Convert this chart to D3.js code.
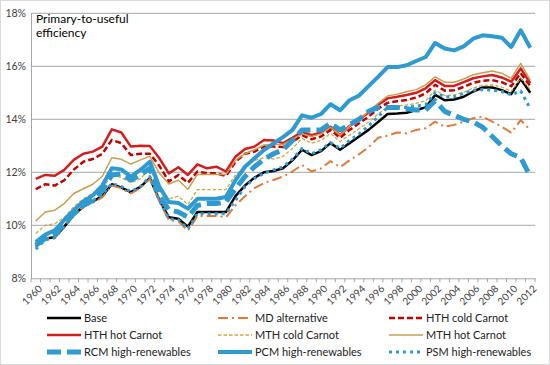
<!DOCTYPE html>
<html><head><meta charset="utf-8">
<script src="https://cdn.jsdelivr.net/npm/d3@7"></script>
<style>
html,body{margin:0;padding:0;background:#fff;}
svg{display:block;font-family:Lato,"Open Sans",sans-serif;}
</style></head>
<body><svg id="c" width="550" height="365"></svg>
<script>
const years = d3.range(1960, 2013);
const yTicks = [8, 10, 12, 14, 16, 18];

const base = [9.2,9.5,9.55,9.95,10.4,10.7,10.9,11.1,11.55,11.42, 11.25,11.45,11.78,10.95,10.3,10.25,9.95,10.5,10.5,10.5, 10.5,11.1,11.5,11.8,12.0,12.05,12.15,12.45,12.85,12.65, 12.8,13.1,12.85,13.1,13.35,13.6,13.9,14.2,14.22,14.25, 14.35,14.45,14.92,14.72,14.75,14.85,15.05,15.2,15.2,15.1, 14.95,15.52,15.0];
const mdAlt = [9.2,9.5,9.55,9.95,10.4,10.7,10.85,11.05,11.5,11.4, 11.2,11.4,11.75,10.9,10.2,10.15,9.8,10.35,10.35,10.35, 10.3,10.75,11.1,11.4,11.6,11.71,11.84,12.03,12.28,12.03, 12.15,12.42,12.2,12.45,12.68,12.95,13.3,13.38,13.5,13.47, 13.6,13.66,13.91,13.72,13.79,13.91,14.04,14.1,13.91,13.72, 13.5,13.97,13.6];
const hthCold = [11.36,11.55,11.5,11.7,12.1,12.4,12.5,12.7,13.22,13.1, 12.65,12.7,12.7,12.24,11.65,11.9,11.6,12.03,11.96,11.96, 11.86,12.4,12.7,12.78,12.97,12.97,12.95,13.15,13.4,13.25, 13.35,13.6,13.3,13.6,13.85,14.1,14.4,14.62,14.68,14.73, 14.82,14.98,15.3,15.08,15.1,15.22,15.38,15.45,15.48,15.4, 15.25,15.74,15.26];
const hthHot = [11.75,11.9,11.87,12.09,12.47,12.7,12.78,12.97,13.62,13.5, 12.97,13.0,12.99,12.53,11.96,12.19,11.9,12.3,12.15,12.21, 12.03,12.59,12.88,12.97,13.22,13.2,13.1,13.3,13.53,13.4, 13.5,13.72,13.4,13.75,14.0,14.25,14.55,14.79,14.85,14.92, 15.0,15.17,15.48,15.26,15.26,15.4,15.55,15.62,15.67,15.58, 15.42,15.92,15.36];
const mthCold = [9.69,10.0,10.06,10.3,10.7,11.0,11.2,11.38,11.9,11.8, 11.6,11.75,12.15,11.3,11.0,11.1,10.78,11.35,11.35,11.35, 11.35,11.9,12.2,12.45,12.55,12.5,12.6,12.9,13.28,13.1, 13.2,13.47,13.16,13.4,13.65,13.9,14.2,14.45,14.5,14.54, 14.6,14.7,15.1,14.9,14.92,15.02,15.18,15.28,15.3,15.22, 15.05,15.55,15.13];
const mthHot = [10.16,10.5,10.57,10.82,11.2,11.38,11.55,11.85,12.55,12.49, 12.31,12.47,12.6,11.96,11.56,11.7,11.36,11.92,11.92,11.92, 11.92,12.45,12.7,12.85,13.03,13.05,13.05,13.25,13.45,13.35, 13.45,13.7,13.4,13.75,14.0,14.3,14.6,14.88,14.95,15.04, 15.12,15.3,15.6,15.4,15.4,15.52,15.68,15.76,15.82,15.74, 15.55,16.11,15.48];
const rcm = [9.25,9.5,9.66,10.05,10.44,10.75,10.94,11.3,11.9,11.94, 11.71,11.9,12.15,11.13,10.57,10.5,10.31,10.75,10.82,10.82, 10.88,11.38,11.84,12.21,12.49,12.7,12.85,13.2,13.6,13.6, 13.6,13.85,13.6,13.8,14.0,14.3,14.45,14.45,14.45,14.4, 14.35,14.35,14.7,14.3,14.15,14.0,13.9,13.7,13.35,13.0, 12.7,12.55,11.85];
const pcm = [9.37,9.65,9.81,10.2,10.57,10.9,11.13,11.5,12.15,12.11, 11.84,12.09,12.4,11.45,10.88,10.84,10.63,11.0,11.0,11.0, 11.07,11.7,12.21,12.53,12.84,13.09,13.33,13.6,14.15,14.06, 14.2,14.57,14.34,14.72,14.9,15.25,15.6,15.97,15.97,16.04, 16.2,16.35,16.88,16.67,16.6,16.75,17.04,17.17,17.13,17.08, 16.73,17.36,16.7];
const psm = [9.1,9.45,9.53,9.95,10.38,10.7,10.94,11.15,11.58,11.46, 11.27,11.46,11.84,10.94,10.25,10.21,9.87,10.44,10.44,10.44, 10.44,10.94,11.46,11.77,11.96,12.09,12.2,12.5,12.9,12.7, 12.85,13.12,12.9,13.2,13.45,13.75,14.1,14.45,14.45,14.45, 14.5,14.55,15.0,14.85,14.85,14.98,15.1,15.12,15.1,15.05, 14.92,15.07,14.4];

const seriesNames = ["Base","MD alternative","HTH cold Carnot","HTH hot Carnot","MTH cold Carnot","MTH hot Carnot","RCM high-renewables","PCM high-renewables","PSM high-renewables"];
const seriesValues = [base, mdAlt, hthCold, hthHot, mthCold, mthHot, rcm, pcm, psm];

const styles = [
  {color:"#000000", width:2.5, dash:null},
  {color:"#e2793a", width:2, dash:"10,4,2,4"},
  {color:"#c00000", width:2.5, dash:"6,3"},
  {color:"#d21e1e", width:2.5, dash:null},
  {color:"#d4a640", width:1.3, dash:"3.5,2"},
  {color:"#c9a050", width:1.5, dash:null},
  {color:"#2f9ad0", width:5, dash:"14,6"},
  {color:"#2f9ad0", width:4, dash:null},
  {color:"#2f9ad0", width:3, dash:"3,4"}
];

const svg = d3.select("#c");
svg.append("rect").attr("x",0.5).attr("y",0.5).attr("width",549).attr("height",364)
  .attr("fill","#fff").attr("stroke","#d9d9d9");

const L = 31, R = 535, T = 13.3, B = 278.3;
const x = d3.scaleBand().domain(years).range([L, R]);
const y = d3.scaleLinear().domain([8, 18]).range([B, T]);
const cx = d => x(d) + x.bandwidth()/2;

// gridlines
svg.append("g").selectAll("line").data(yTicks.slice(1)).join("line")
  .attr("x1", L).attr("x2", R).attr("y1", d=>y(d)).attr("y2", d=>y(d))
  .attr("stroke", "#a6a6a6").attr("stroke-width", 1);

// y axis labels
const ya = svg.append("g").attr("transform", `translate(${L},0)`)
  .call(d3.axisLeft(y).tickValues(yTicks).tickFormat(d=>d+"%").tickSize(0).tickPadding(5));
ya.select(".domain").attr("stroke","#a6a6a6");
ya.selectAll("text").attr("font-size", 10.5).attr("fill","#404040").attr("font-family","Lato");

// x axis
const xa = svg.append("g").attr("transform", `translate(0,${B})`)
  .call(d3.axisBottom(x).tickSize(0).tickFormat(d => d % 2 === 0 ? d : ""));
xa.select(".domain").attr("stroke","#a6a6a6");
xa.selectAll("text").attr("font-size", 10).attr("fill","#404040").attr("font-family","Lato")
  .attr("text-anchor","end").attr("dy", null)
  .attr("transform","translate(7,11) rotate(-45)").attr("y",0).attr("x",0);
// tick marks at category boundaries
const bounds = years.map(d => x(d)).concat([x(years[years.length-1]) + x.bandwidth()]);
svg.append("g").selectAll("line").data(bounds).join("line")
  .attr("x1", d=>d).attr("x2", d=>d).attr("y1", B).attr("y2", B+4)
  .attr("stroke","#a6a6a6");

// series lines
const line = d3.line().x((d,i)=>cx(years[i])).y(d=>y(d));
const g = svg.append("g");
seriesValues.forEach((vals, k) => {
  const s = styles[k];
  g.append("path").attr("d", line(vals)).attr("fill","none")
    .attr("stroke", s.color).attr("stroke-width", s.width)
    .attr("stroke-dasharray", s.dash).attr("stroke-linejoin","round");
});

// annotation
const ann = svg.append("text").attr("x", 36).attr("font-size", 12).attr("fill","#000").attr("font-family","Lato");
ann.append("tspan").attr("x",36).attr("y",23).text("Primary-to-useful");
ann.append("tspan").attr("x",36).attr("y",37).text("efficiency");

// legend
const colX = [47, 218, 389];
const rowY = [318, 335, 352];
const lg = svg.append("g");
seriesNames.forEach((name, k) => {
  const s = styles[k];
  const lx = colX[k % 3], ly = rowY[Math.floor(k/3)];
  lg.append("line").attr("x1", lx).attr("x2", lx+34).attr("y1", ly).attr("y2", ly)
    .attr("stroke", s.color).attr("stroke-width", s.width).attr("stroke-dasharray", s.dash);
  lg.append("text").attr("x", lx+37).attr("y", ly+4).attr("font-size", 11)
    .attr("fill","#222").attr("font-family","Lato").text(name);
});
</script></body></html>
